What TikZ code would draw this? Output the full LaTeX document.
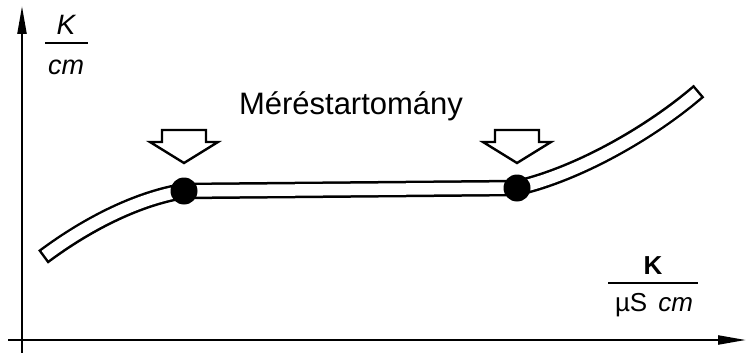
\documentclass[tikz,border=0pt]{standalone}
\usepackage{fontspec}
\setmainfont{Liberation Sans}
\usetikzlibrary{arrows.meta}
\begin{document}
\begin{tikzpicture}[x=1pt,y=-1pt,
  axis/.style={line width=2.2pt,-{Triangle[length=28pt,width=9pt]}},
  dot/.style={circle,fill=black,minimum size=27pt,inner sep=0pt},
  hollow/.style={draw=black,line width=2.4pt,fill=white,line join=miter},
  lbl/.style={inner sep=0pt,anchor=base},
  fracline/.style={line width=1.8pt}]
\useasboundingbox (0,0) rectangle (748,353);
% axes
\coordinate (ybot) at (22,353);
\coordinate (ytop) at (22,6);
\coordinate (xl) at (8,340);
\coordinate (xr) at (746,340);
\draw[axis] (ybot) -- (ytop);
\draw[axis] (xl) -- (xr);
% band
\coordinate (s) at (43,257);
\coordinate (a) at (184,191);
\coordinate (b) at (517,188);
\coordinate (e) at (699,91);
\draw[line width=16.5pt] (s) .. controls (90,222) and (140,198) .. (a) -- (b) .. controls (578,174) and (650,133) .. (e);
\draw[line width=11.5pt, white, shorten <=2.5pt, shorten >=2.5pt] (s) .. controls (90,222) and (140,198) .. (a) -- (b) .. controls (578,174) and (650,133) .. (e);
\node[dot] (d1) at (a) {};
\node[dot] (d2) at (b) {};
% hollow arrows
\coordinate (t1) at (184,163);
\coordinate (t2) at (517,163);
\draw[hollow] (t1) -- ++(34,-21) -- ++(-12,0) -- ++(0,-12) -- ++(-44,0) -- ++(0,12) -- ++(-12,0) -- cycle;
\draw[hollow] (t2) -- ++(34,-21) -- ++(-12,0) -- ++(0,-12) -- ++(-44,0) -- ++(0,12) -- ++(-12,0) -- cycle;
% labels
\node[lbl,font=\fontsize{31}{36}\selectfont] (title) at (351,114) {Méréstartomány};
\node[lbl,font=\fontsize{28}{30}\selectfont\itshape] (k1) at (66,35) {K};
\coordinate (f1l) at (45,43);
\coordinate (f1r) at (88,43);
\draw[fracline] (f1l) -- (f1r);
\node[lbl,font=\fontsize{27}{30}\selectfont\itshape] (cm1) at (66,75) {cm};
\node[lbl,font=\fontsize{26}{30}\selectfont\bfseries] (k2) at (653,274) {K};
\coordinate (f2l) at (608,283);
\coordinate (f2r) at (698,283);
\draw[fracline] (f2l) -- (f2r);
\node[lbl,font=\fontsize{26}{30}\selectfont] (u) at (654,311) {µS\hspace{11pt}\textit{cm}};
\end{tikzpicture}
\end{document}
